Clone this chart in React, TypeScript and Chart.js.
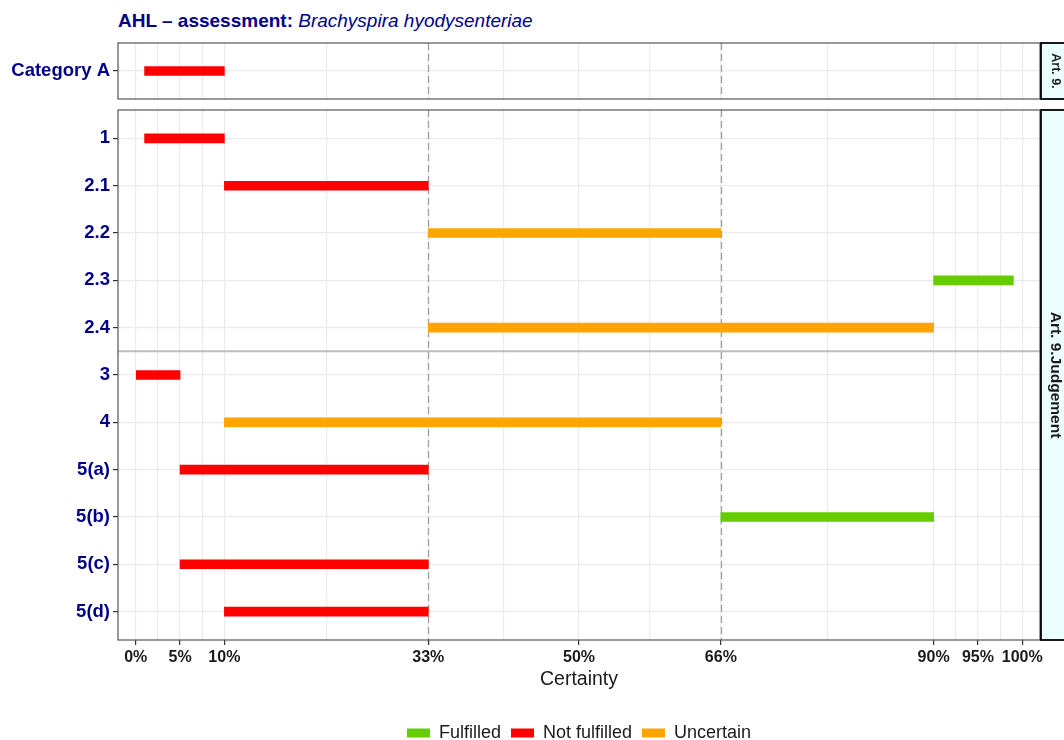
import React, { useEffect, useRef } from 'react';
import { Chart, registerables } from 'chart.js';

Chart.register(...registerables);

// ---------------- data ----------------
const TOP_CATEGORIES = ['Category A'];
const TOP_LOWER = [1];
const TOP_UPPER = [10];
const TOP_STATUS = ['Not fulfilled'];
const TOP_STRIP = 'Art. 9.';

const CATEGORIES = ['1', '2.1', '2.2', '2.3', '2.4', '3', '4', '5(a)', '5(b)', '5(c)', '5(d)'];
const LOWER = [1, 10, 33, 90, 33, 0, 10, 5, 66, 5, 10];
const UPPER = [10, 33, 66, 99, 90, 5, 66, 33, 90, 33, 33];
const STATUS = [
  'Not fulfilled', 'Not fulfilled', 'Uncertain', 'Fulfilled', 'Uncertain',
  'Not fulfilled', 'Uncertain', 'Not fulfilled', 'Fulfilled', 'Not fulfilled', 'Not fulfilled',
];
const BOTTOM_STRIP = 'Art. 9.Judgement';
const GROUP_SPLIT_AFTER = '2.4';

const STATUS_ORDER = ['Fulfilled', 'Not fulfilled', 'Uncertain'];
const STATUS_COLORS = ['#66CC00', '#FF0000', '#FFA500'];

const MAJOR_TICKS = [0, 5, 10, 33, 50, 66, 90, 95, 100];
const MINOR_TICKS = [2.5, 7.5, 21.5, 41.5, 58, 78, 92.5, 97.5];
const THRESHOLDS = [33, 66];
const X_MIN = -2;
const X_MAX = 102;

const FONT = '"Liberation Sans", Arial, Helvetica, sans-serif';

// ---------------- helpers ----------------
function makeDatasets(cats: string[], lo: number[], hi: number[], st: string[]) {
  return STATUS_ORDER.map((s, k) => ({
    label: s,
    data: cats
      .map((_, i) => ({ x: [lo[i], hi[i]], y: i, s: st[i] }))
      .filter((d) => d.s === s)
      .map((d) => ({ x: d.x, y: d.y })),
    backgroundColor: STATUS_COLORS[k],
    borderColor: STATUS_COLORS[k],
    borderWidth: 0,
    barThickness: 9,
    grouped: false,
  }));
}

const decorPlugin = {
  id: 'decor',
  beforeDatasetsDraw(chart: any, _args: any, opts: any) {
    const { ctx, chartArea: a, scales } = chart;
    const xs = scales.x;
    const ys = scales.y;
    ctx.save();
    (opts.hlines || []).forEach((v: number) => {
      const py = ys.getPixelForValue(v);
      ctx.strokeStyle = '#BDBDBD';
      ctx.lineWidth = 2;
      ctx.beginPath();
      ctx.moveTo(a.left, py);
      ctx.lineTo(a.right, py);
      ctx.stroke();
    });
    ctx.setLineDash([7, 4]);
    ctx.strokeStyle = '#A0A0A0';
    ctx.lineWidth = 1.3;
    THRESHOLDS.forEach((v) => {
      const px = Math.round(xs.getPixelForValue(v)) + 0.5;
      ctx.beginPath();
      ctx.moveTo(px, a.top);
      ctx.lineTo(px, a.bottom);
      ctx.stroke();
    });
    ctx.restore();
  },
  afterDraw(chart: any, _args: any, opts: any) {
    const { ctx, chartArea: a } = chart;
    ctx.save();
    // panel border
    ctx.strokeStyle = '#555555';
    ctx.lineWidth = 1.2;
    ctx.strokeRect(a.left, a.top, a.right - a.left, a.bottom - a.top);
    // strip
    const sx = a.right + 1;
    const sw = 30;
    ctx.fillStyle = '#EBFFFF';
    ctx.fillRect(sx, a.top, sw, a.bottom - a.top);
    ctx.strokeStyle = '#000000';
    ctx.lineWidth = 1.8;
    ctx.strokeRect(sx, a.top, sw, a.bottom - a.top);
    // strip text
    ctx.translate(sx + 14, (a.top + a.bottom) / 2 + (opts.textShift || 0));
    ctx.rotate(Math.PI / 2);
    ctx.fillStyle = '#1A1A1A';
    ctx.font = `bold ${opts.stripSize}px ${FONT}`;
    ctx.textAlign = 'center';
    ctx.textBaseline = 'middle';
    ctx.fillText(opts.strip, 0, 0);
    ctx.restore();
  },
};

function zeroPad(s: any) {
  s.paddingLeft = 0;
  s.paddingRight = 0;
  s.paddingTop = 0;
  s.paddingBottom = 0;
}

function yAxis(cats: string[]) {
  return {
    type: 'linear',
    reverse: true,
    offset: false,
    min: -0.6,
    max: cats.length - 0.4,
    afterBuildTicks: (s: any) => {
      s.ticks = cats.map((_, i) => ({ value: i }));
    },
    afterFit: (s: any) => {
      s.width = 118;
      zeroPad(s);
    },
    grid: {
      offset: false,
      color: '#EBEBEB',
      lineWidth: 1.2,
      drawTicks: true,
      tickLength: 5,
      tickColor: '#333333',
      tickWidth: 1.2,
    },
    border: { display: false },
    ticks: {
      autoSkip: false,
      padding: 3,
      font: { family: FONT, size: 18.5, weight: 'bold' },
      color: '#00008B',
      callback: (v: number) => (cats[v] !== undefined ? cats[v] : ''),
    },
  };
}

function xTicks(s: any) {
  s.ticks = [...MAJOR_TICKS, ...MINOR_TICKS].sort((p, q) => p - q).map((v) => ({ value: v }));
}

export default function App() {
  const topRef = useRef<HTMLCanvasElement>(null);
  const botRef = useRef<HTMLCanvasElement>(null);

  useEffect(() => {
    const top = new Chart(topRef.current as HTMLCanvasElement, {
      type: 'bar',
      data: { datasets: makeDatasets(TOP_CATEGORIES, TOP_LOWER, TOP_UPPER, TOP_STATUS) as any },
      options: {
        indexAxis: 'y',
        responsive: false,
        maintainAspectRatio: false,
        animation: false,
        events: [],
        layout: { padding: { left: 0, right: 24, top: 13, bottom: 7 } },
        scales: {
          x: {
            type: 'linear',
            min: X_MIN,
            max: X_MAX,
            offset: false,
            afterBuildTicks: xTicks,
            afterFit: (s: any) => {
              s.height = 0;
              zeroPad(s);
            },
            grid: { offset: false, color: '#EBEBEB', lineWidth: 1.2, drawTicks: false },
            border: { display: false },
            ticks: { display: false },
          },
          y: yAxis(TOP_CATEGORIES) as any,
        },
        plugins: {
          legend: { display: false },
          tooltip: { enabled: false },
          decor: { strip: TOP_STRIP, stripSize: 12.5, hlines: [] },
        } as any,
      },
      plugins: [decorPlugin],
    } as any);

    const splitAt = CATEGORIES.indexOf(GROUP_SPLIT_AFTER) + 0.5;
    const bottom = new Chart(botRef.current as HTMLCanvasElement, {
      type: 'bar',
      data: { datasets: makeDatasets(CATEGORIES, LOWER, UPPER, STATUS) as any },
      options: {
        indexAxis: 'y',
        responsive: false,
        maintainAspectRatio: false,
        animation: false,
        events: [],
        layout: { padding: { left: 0, right: 24, top: 4, bottom: 0 } },
        scales: {
          x: {
            type: 'linear',
            min: X_MIN,
            max: X_MAX,
            offset: false,
            afterBuildTicks: xTicks,
            afterFit: (s: any) => {
              s.height = 74;
              zeroPad(s);
            },
            grid: {
              offset: false,
              color: '#EBEBEB',
              lineWidth: 1.2,
              drawTicks: true,
              tickLength: 5,
              tickWidth: 1.2,
              tickColor: (c: any) =>
                c.tick && MAJOR_TICKS.includes(c.tick.value) ? '#333333' : 'rgba(0,0,0,0)',
            },
            border: { display: false },
            ticks: {
              autoSkip: false,
              maxRotation: 0,
              padding: 3,
              font: { family: FONT, size: 16, weight: 'bold' },
              color: '#1A1A1A',
              callback: (v: number) => (MAJOR_TICKS.includes(v) ? `${v}%` : ''),
            },
            title: {
              display: true,
              text: 'Certainty',
              font: { family: FONT, size: 19.5 },
              color: '#1A1A1A',
              padding: { top: 4, bottom: 23 },
            },
          },
          y: yAxis(CATEGORIES) as any,
        },
        plugins: {
          legend: {
            display: true,
            position: 'bottom',
            fullSize: false,
            labels: {
              boxWidth: 23,
              boxHeight: 9,
              padding: 10,
              color: '#1A1A1A',
              font: { family: FONT, size: 18 },
            },
          },
          tooltip: { enabled: false },
          decor: { strip: BOTTOM_STRIP, stripSize: 15.5, hlines: [splitAt] },
        } as any,
      },
      plugins: [decorPlugin],
    } as any);

    return () => {
      top.destroy();
      bottom.destroy();
    };
  }, []);

  return (
    <div
      style={{
        position: 'absolute',
        left: 0,
        top: 0,
        width: 1064,
        height: 740,
        overflow: 'hidden',
        background: '#FFFFFF',
      }}
    >
      <div
        style={{
          position: 'absolute',
          left: 118,
          top: 11,
          font: `bold 19px ${FONT}`,
          lineHeight: '20px',
          color: '#00008B',
          whiteSpace: 'nowrap',
        }}
      >
        AHL – assessment:{' '}
        <span style={{ fontStyle: 'italic', fontWeight: 'normal' }}>Brachyspira hyodysenteriae</span>
      </div>
      <canvas
        ref={topRef}
        width={1064}
        height={76}
        style={{ position: 'absolute', left: 0, top: 30, width: 1064, height: 76, display: 'block' }}
      />
      <canvas
        ref={botRef}
        width={1064}
        height={646}
        style={{ position: 'absolute', left: 0, top: 106, width: 1064, height: 646, display: 'block' }}
      />
    </div>
  );
}
